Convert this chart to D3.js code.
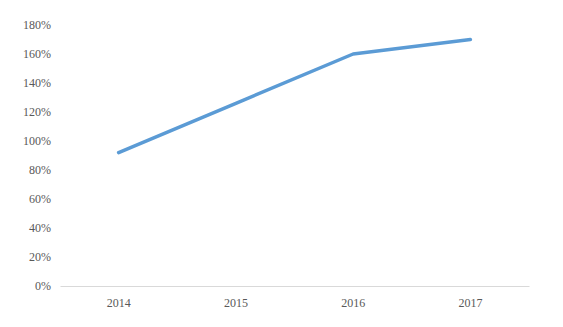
<!doctype html>
<html>
<head>
<script src="https://d3js.org/d3.v7.min.js"></script>
<style>
  body { margin: 0; background: #fff; }
  .tick text { font-family: "Liberation Serif", "Times New Roman", serif; font-size: 12px; fill: #595959; }
</style>
</head>
<body>
<svg id="chart" width="563" height="327"></svg>
<script>
var years = ["2014", "2015", "2016", "2017"];
var growth = [0.92, 1.26, 1.60, 1.70];
var yTicks = [0, 0.2, 0.4, 0.6, 0.8, 1.0, 1.2, 1.4, 1.6, 1.8];

var svg = d3.select("#chart");
var plotLeft = 60, plotRight = 529, plotTop = 25, plotBottom = 286;

var x = d3.scaleBand().domain(years).range([plotLeft, plotRight]);
var y = d3.scaleLinear().domain([0, 1.8]).range([plotBottom, plotTop]);

// y labels only, no axis line
var yAxis = svg.append("g")
  .attr("transform", "translate(" + plotLeft + ",0)")
  .call(d3.axisLeft(y).tickValues(yTicks).tickFormat(d3.format(".0%")).tickSize(0).tickPadding(9));
yAxis.select(".domain").remove();

// x axis
var xAxis = svg.append("g")
  .attr("transform", "translate(0," + plotBottom + ")")
  .call(d3.axisBottom(x).tickSize(0).tickPadding(12));
xAxis.select(".domain").attr("stroke", "#d9d9d9").attr("stroke-width", 1.2);

var line = d3.line()
  .x(function(d, i) { return x(years[i]) + x.bandwidth() / 2; })
  .y(function(d) { return y(d); });

svg.append("path")
  .datum(growth)
  .attr("fill", "none")
  .attr("stroke", "#5b9bd5")
  .attr("stroke-width", 3.5)
  .attr("stroke-linecap", "round")
  .attr("stroke-linejoin", "round")
  .attr("d", line);
</script>
</body>
</html>
